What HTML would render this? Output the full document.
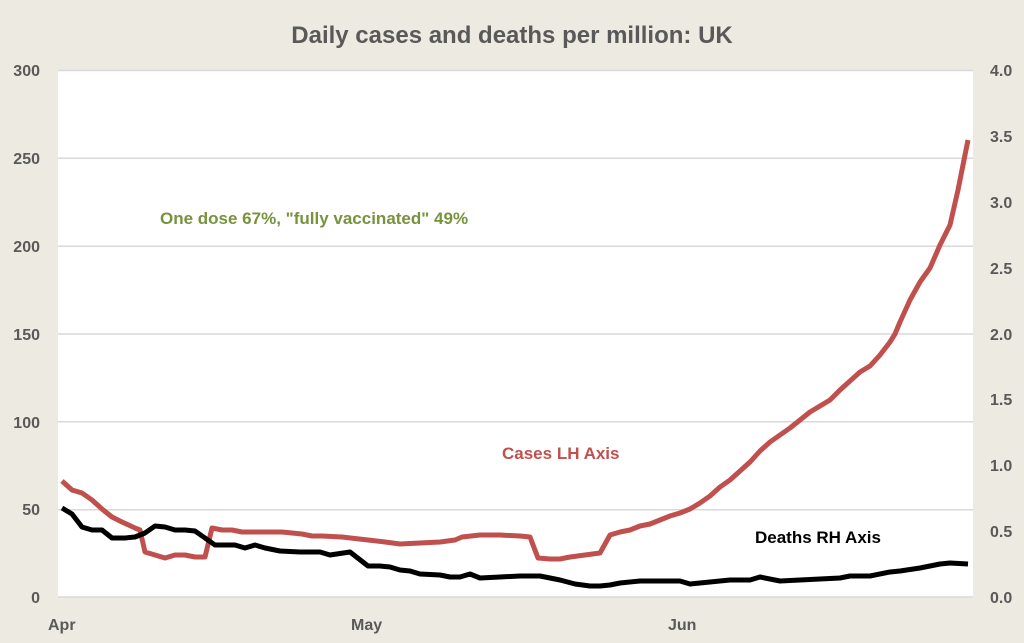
<!DOCTYPE html>
<html><head><meta charset="utf-8"><style>
body{margin:0;background:#edebe1;}
svg{display:block;font-family:"Liberation Sans",sans-serif;font-weight:bold;}
</style></head><body>
<svg width="1024" height="643" viewBox="0 0 1024 643">
<rect width="1024" height="643" fill="#edebe1"/>
<text x="512" y="43" text-anchor="middle" font-size="24" fill="#595959">Daily cases and deaths per million: UK</text>
<rect x="58" y="70" width="915" height="527" fill="#fff"/>
<g stroke="#d9d9d9" stroke-width="1.5">
<line x1="58" y1="70.5" x2="973" y2="70.5"/>
<line x1="58" y1="158.3" x2="973" y2="158.3"/>
<line x1="58" y1="246.2" x2="973" y2="246.2"/>
<line x1="58" y1="334" x2="973" y2="334"/>
<line x1="58" y1="421.8" x2="973" y2="421.8"/>
<line x1="58" y1="509.7" x2="973" y2="509.7"/>
<line x1="58" y1="597" x2="973" y2="597"/>
</g>
<g font-size="16" fill="#595959" text-anchor="end">
<text x="40" y="76">300</text><text x="40" y="164">250</text><text x="40" y="252">200</text>
<text x="40" y="340">150</text><text x="40" y="428">100</text><text x="40" y="515">50</text><text x="40" y="603">0</text>
</g>
<g font-size="16" fill="#595959" text-anchor="start">
<text x="990" y="76">4.0</text><text x="990" y="142">3.5</text><text x="990" y="208">3.0</text>
<text x="990" y="274">2.5</text><text x="990" y="340">2.0</text><text x="990" y="405">1.5</text>
<text x="990" y="471">1.0</text><text x="990" y="537">0.5</text><text x="990" y="603">0.0</text>
</g>
<g font-size="16" fill="#595959">
<text x="48" y="630">Apr</text><text x="351" y="630">May</text><text x="668" y="630">Jun</text>
</g>
<polyline fill="none" stroke="#c0504d" stroke-width="5" stroke-linejoin="round" points="62,481 72,490 82,493 92,500 102,509 112,517 122,522 135,528 140,530 145,552 155,555 165,558 175,555 185,555 195,557 205,557 212,528 222,530 232,530 242,532 262,532 282,532 302,534 312,536 322,536 342,537 368,540 385,542 400,544 420,543 440,542 455,540 462,537 480,535 500,535 520,536 530,537 538,558 550,559 560,559 570,557 585,555 600,553 610,535 620,532 630,530 640,526 650,524 660,520 670,516 680,513 690,509 700,503 710,496 720,487 730,480 740,471 750,462 760,451 770,442 780,435 790,428 800,420 810,412 820,406 830,400 840,390 850,381 860,372 870,366 880,355 890,342 895,334 900,322 910,300 920,282 930,268 940,245 950,225 958,190 963,165 968,140"/>
<polyline fill="none" stroke="#000" stroke-width="5" stroke-linejoin="round" points="62,508 72,514 82,527 92,530 102,530 112,538 125,538 135,537 145,533 155,526 165,527 175,530 185,530 195,531 205,538 215,545 235,545 245,548 255,545 265,548 280,551 300,552 320,552 330,555 350,552 368,566 380,566 390,567 400,570 410,571 420,574 440,575 450,577 460,577 470,574 480,578 500,577 520,576 540,576 550,578 560,580 575,584 590,586 600,586 610,585 620,583 640,581 680,581 690,584 710,582 730,580 750,580 760,577 780,581 800,580 820,579 840,578 850,576 870,576 890,572 900,571 920,568 940,564 950,563 968,564"/>
<text x="160" y="224" font-size="17" fill="#77933c">One dose 67%, "fully vaccinated" 49%</text>
<text x="502" y="459" font-size="17" fill="#c0504d">Cases LH Axis</text>
<text x="755" y="543" font-size="17" fill="#000">Deaths RH Axis</text>
</svg>
</body></html>
